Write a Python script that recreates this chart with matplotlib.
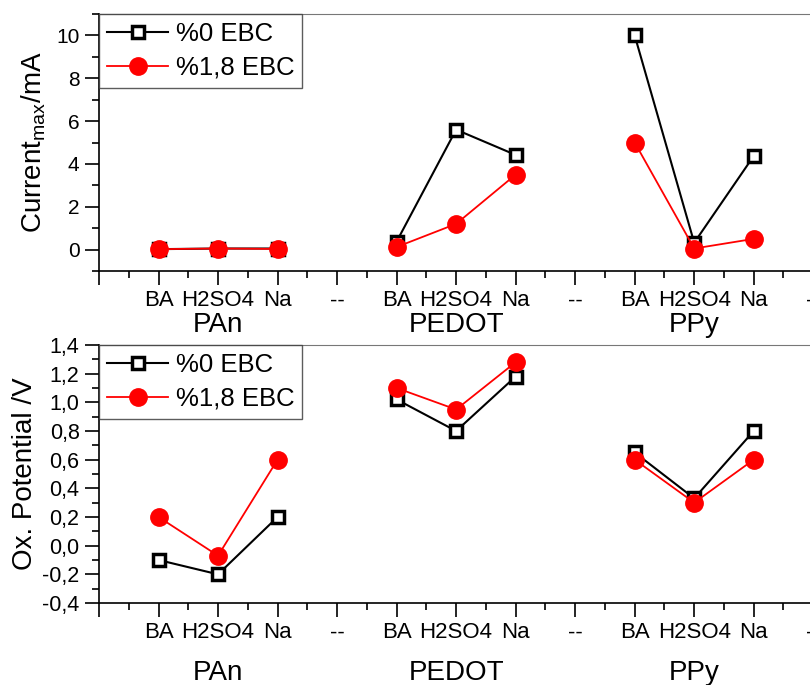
import numpy as np
import matplotlib
matplotlib.use("Agg")
from matplotlib import pyplot as plt
from matplotlib.ticker import MultipleLocator, FuncFormatter

plt.rcParams['font.family'] = ['Liberation Sans', 'DejaVu Sans']

# categorical positions: 0 blank, 1-3 PAn, 4 "--", 5-7 PEDOT, 8 "--", 9-11 PPy, 12 "--"
tick_labels = ["", "BA", "H2SO4", "Na", "--", "BA", "H2SO4", "Na", "--", "BA", "H2SO4", "Na", "--"]
groups = ["PAn", "PEDOT", "PPy"]
group_pos = [[1, 2, 3], [5, 6, 7], [9, 10, 11]]

cur_ebc0 = [[0.02, 0.05, 0.05], [0.37, 5.6, 4.42], [10.0, 0.32, 4.37]]
cur_ebc18 = [[0.02, 0.05, 0.03], [0.12, 1.2, 3.5], [5.0, 0.05, 0.5]]

pot_ebc0 = [[-0.1, -0.2, 0.2], [1.02, 0.8, 1.18], [0.65, 0.33, 0.8]]
pot_ebc18 = [[0.2, -0.07, 0.6], [1.1, 0.95, 1.28], [0.6, 0.3, 0.6]]


def comma(v, pos):
  return "{:.1f}".format(v).replace(".", ",")


def draw(ax, s0, s18):
  for i, xs in enumerate(group_pos):
    ax.plot(xs, s0[i], color="black", lw=1.5, marker="s", ms=8.5, mfc="white",
            mec="black", mew=2.5, label="%0 EBC" if i == 0 else None, zorder=3)
    ax.plot(xs, s18[i], color="red", lw=1.3, marker="o", ms=12.5, mfc="red",
            mec="red", label="%1,8 EBC" if i == 0 else None, zorder=4)
  ax.set_xlim(0, 12.5)
  ax.set_xticks(range(len(tick_labels)))
  ax.set_xticklabels(tick_labels, fontsize=16)
  ax.xaxis.set_minor_locator(MultipleLocator(0.5))
  ax.tick_params(which="major", direction="out", length=10, width=1.2, pad=4)
  ax.tick_params(which="minor", direction="out", length=5, width=1.2)
  ax.spines["top"].set_color("#777777")
  ax.spines["left"].set_linewidth(1.2)
  ax.spines["bottom"].set_linewidth(1.2)
  leg = ax.legend(loc="upper left", fontsize=18.5, frameon=True, fancybox=False,
                  borderaxespad=0.0, handlelength=2.4, handletextpad=0.3,
                  borderpad=0.3, labelspacing=0.4)
  leg.get_frame().set_edgecolor("#333333")
  leg.get_frame().set_linewidth(1.0)


fig = plt.figure(figsize=(8.1, 6.85), dpi=100)
ax1 = fig.add_axes([99 / 810, (685 - 271) / 685, 744 / 810, 257 / 685])
ax2 = fig.add_axes([99 / 810, (685 - 603) / 685, 744 / 810, 258 / 685])

draw(ax1, cur_ebc0, cur_ebc18)
ax1.set_ylim(-1, 11)
ax1.yaxis.set_major_locator(MultipleLocator(2))
ax1.yaxis.set_minor_locator(MultipleLocator(1))
ax1.tick_params(axis="y", labelsize=15)
ax1.set_ylabel("Current$_{\\mathregular{max}}$/mA", fontsize=20, labelpad=6)

draw(ax2, pot_ebc0, pot_ebc18)
ax2.set_ylim(-0.4, 1.4)
ax2.yaxis.set_major_locator(MultipleLocator(0.2))
ax2.yaxis.set_minor_locator(MultipleLocator(0.1))
ax2.yaxis.set_major_formatter(FuncFormatter(comma))
ax2.tick_params(axis="y", labelsize=15.5)
ax2.set_ylabel("Ox. Potential /V", fontsize=20, labelpad=3)

for name, xs in zip(groups, group_pos):
  ax1.text(xs[1], -0.21, name, transform=ax1.get_xaxis_transform(),
           ha="center", va="center", fontsize=20)
  ax2.text(xs[1], -0.272, name, transform=ax2.get_xaxis_transform(),
           ha="center", va="center", fontsize=20)

fig.savefig("out.png", dpi=100)
